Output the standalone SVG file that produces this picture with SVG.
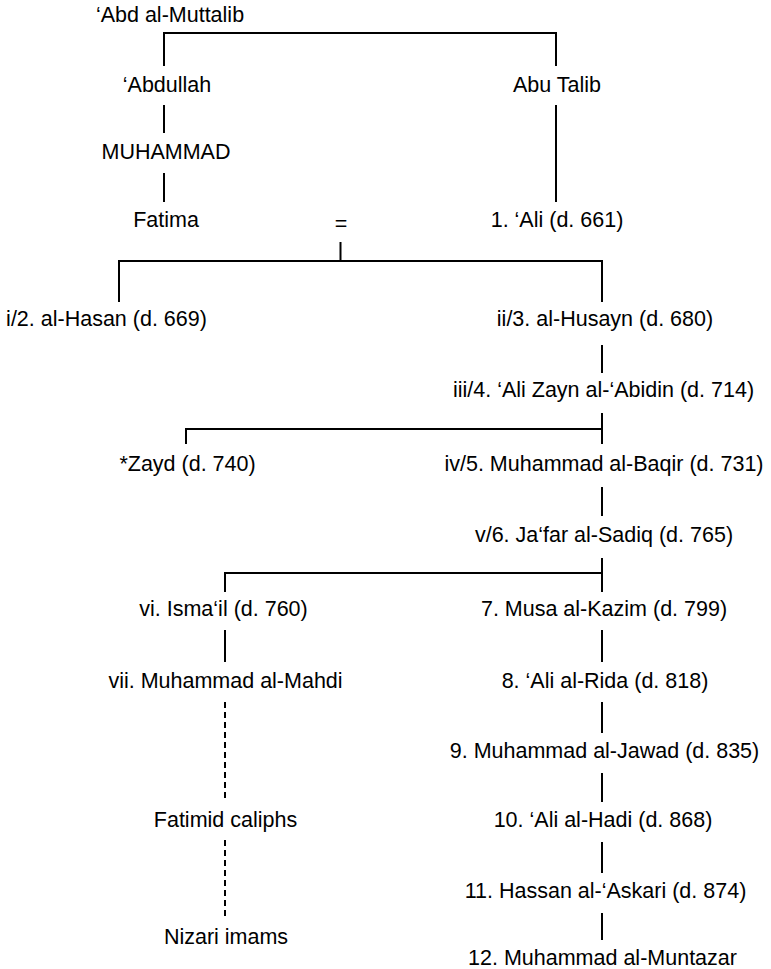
<svg xmlns="http://www.w3.org/2000/svg" width="771" height="969" viewBox="0 0 771 969">
<style>
text{font-family:"Liberation Sans",Arial,Helvetica,sans-serif;font-size:21.5px;fill:#000;text-anchor:middle}
.ln{stroke:#000;stroke-width:2;fill:none}
.dash{stroke-dasharray:6 4}
</style>
<rect width="771" height="969" fill="#fff"/>
<g id="connectors">
<path class="ln" d="M164 66V33H556V66"/>
<path class="ln" d="M164 105V133"/>
<path class="ln" d="M164 173V202"/>
<path class="ln" d="M556 105V202"/>
<path class="ln" d="M340.5 242V261"/>
<path class="ln" d="M119 302V261H602V302"/>
<path class="ln" d="M602 345V373"/>
<path class="ln" d="M602 413V444"/>
<path class="ln" d="M602 429H186V444"/>
<path class="ln" d="M602 487V516"/>
<path class="ln" d="M602 558V592"/>
<path class="ln" d="M602 573H225V592"/>
<path class="ln" d="M602 630V662"/>
<path class="ln" d="M602 702V733"/>
<path class="ln" d="M602 773V802"/>
<path class="ln" d="M602 842V873"/>
<path class="ln" d="M602 913V940"/>
<path class="ln" d="M225 630V662"/>
<path class="ln dash" d="M225 702V800"/>
<path class="ln dash" d="M225 840V920"/>
</g>
<g id="abd-al-muttalib"><text x="170" y="22">‘Abd al-Muttalib</text></g>
<g id="abdullah"><text x="167" y="92">‘Abdullah</text></g>
<g id="abu-talib"><text x="557" y="92">Abu Talib</text></g>
<g id="muhammad"><text x="166" y="159">MUHAMMAD</text></g>
<g id="fatima"><text x="166" y="227">Fatima</text></g>
<g id="marriage"><text x="341" y="231">=</text></g>
<g id="ali"><text x="557" y="227">1. ‘Ali (d. 661)</text></g>
<g id="hasan"><text x="106.5" y="326">i/2. al-Hasan (d. 669)</text></g>
<g id="husayn"><text x="605" y="326">ii/3. al-Husayn (d. 680)</text></g>
<g id="zayn"><text x="603.5" y="397">iii/4. ‘Ali Zayn al-‘Abidin (d. 714)</text></g>
<g id="zayd"><text x="187.5" y="471">*Zayd (d. 740)</text></g>
<g id="baqir"><text x="604" y="471">iv/5. Muhammad al-Baqir (d. 731)</text></g>
<g id="sadiq"><text x="604" y="542">v/6. Ja‘far al-Sadiq (d. 765)</text></g>
<g id="ismail"><text x="223.5" y="616">vi. Isma‘il (d. 760)</text></g>
<g id="kazim"><text x="604" y="616">7. Musa al-Kazim (d. 799)</text></g>
<g id="mahdi"><text x="225.5" y="688">vii. Muhammad al-Mahdi</text></g>
<g id="rida"><text x="605" y="688">8. ‘Ali al-Rida (d. 818)</text></g>
<g id="jawad"><text x="604.5" y="758">9. Muhammad al-Jawad (d. 835)</text></g>
<g id="fatimid"><text x="225.5" y="827">Fatimid caliphs</text></g>
<g id="hadi"><text x="603" y="827">10. ‘Ali al-Hadi (d. 868)</text></g>
<g id="askari"><text x="605.5" y="898">11. Hassan al-‘Askari (d. 874)</text></g>
<g id="nizari"><text x="226" y="944">Nizari imams</text></g>
<g id="muntazar"><text x="602.5" y="965">12. Muhammad al-Muntazar</text></g>
</svg>
